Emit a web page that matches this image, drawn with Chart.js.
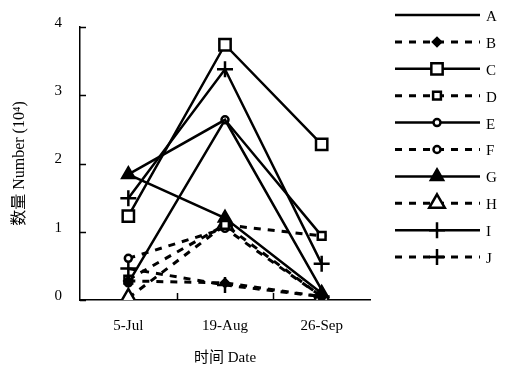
<!DOCTYPE html>
<html>
<head>
<meta charset="utf-8">
<script src="https://cdn.jsdelivr.net/npm/chart.js@4"></script>
<style>
  html, body { margin: 0; padding: 0; background: #fff; }
  #wrap { width: 507px; height: 371px; }
</style>
</head>
<body>
<div id="wrap"><canvas id="myChart"></canvas></div>
<script>
const dates = ['5-Jul', '19-Aug', '26-Sep'];
const yTicks = [0, 1, 2, 3, 4];

const seriesNames = ['A', 'B', 'C', 'D', 'E', 'F', 'G', 'H', 'I', 'J'];
const valuesA = [1.84, 2.64, 0.15];
const valuesB = [0.28, 0.25, 0.05];
const valuesC = [1.23, 3.74, 2.28];
const valuesD = [0.30, 1.10, 0.94];
const valuesE = [0.25, 2.64, 0.94];
const valuesF = [0.61, 1.05, 0.05];
const valuesG = [1.84, 1.20, 0.10];
const valuesH = [0.03, 1.10, 0.05];
const valuesI = [1.49, 3.38, 0.53];
const valuesJ = [0.46, 0.22, 0.05];

const serif = "'Liberation Serif', 'DejaVu Serif', 'Noto Sans CJK SC', serif";
const dashed = [7, 7];

const makeSet = (label, data, dash, style, radius, filled) => ({
    label: label,
    data: data,
    borderColor: '#000',
    borderWidth: dash ? 3 : 2.5,
    borderDash: dash || [],
    tension: 0,
    fill: false,
    pointStyle: style,
    pointRadius: style ? radius : 0,
    pointHoverRadius: style ? radius : 0,
    pointBorderWidth: 2.5,
    pointBorderColor: '#000',
    pointBackgroundColor: filled ? '#000' : '#fff'
});

const datasets = [
    makeSet('A', valuesA, null, false, 0, false),
    makeSet('B', valuesB, dashed, 'rectRot', 4, true),
    makeSet('C', valuesC, null, 'rect', 8, false),
    makeSet('D', valuesD, dashed, 'rect', 5.5, false),
    makeSet('E', valuesE, null, 'circle', 3.5, false),
    makeSet('F', valuesF, dashed, 'circle', 3.5, false),
    makeSet('G', valuesG, null, 'triangle', 7, true),
    makeSet('H', valuesH, dashed, 'triangle', 9, false),
    makeSet('I', valuesI, null, 'cross', 8, false),
    makeSet('J', valuesJ, dashed, 'cross', 8, false)
];

const bgcolorPlugin = {
    id: 'customCanvasBackgroundColor',
    beforeDraw: (chart) => {
        const { ctx } = chart;
        ctx.save();
        ctx.globalCompositeOperation = 'destination-over';
        ctx.fillStyle = '#fff';
        ctx.fillRect(0, 0, chart.width, chart.height);
        ctx.restore();
    }
};

// small ticks pointing into the plot, like the original figure
const innerTicks = {
    id: 'innerTicks',
    afterDraw: (chart) => {
        const { ctx, chartArea, scales } = chart;
        ctx.save();
        ctx.strokeStyle = '#000';
        ctx.lineWidth = 1.5;
        ctx.beginPath();
        yTicks.forEach((v) => {
            const y = Math.round(scales.y.getPixelForValue(v)) + 0.5;
            ctx.moveTo(chartArea.left, y);
            ctx.lineTo(chartArea.left + 6, y);
        });
        for (let i = 1; i < dates.length; i++) {
            const x = Math.round((scales.x.getPixelForValue(i - 1) + scales.x.getPixelForValue(i)) / 2) + 0.5;
            ctx.moveTo(x, chartArea.bottom);
            ctx.lineTo(x, chartArea.bottom - 7);
        }
        ctx.stroke();
        ctx.restore();
    }
};

// legend drawn as line samples with markers on the right
const lineLegend = {
    id: 'lineLegend',
    afterDraw: (chart) => {
        const { ctx } = chart;
        ctx.save();
        chart.data.datasets.forEach((ds, i) => {
            const y = 15 + i * 26.9;
            ctx.strokeStyle = '#000';
            ctx.lineWidth = ds.borderWidth;
            ctx.setLineDash(ds.borderDash);
            ctx.beginPath();
            ctx.moveTo(395, y);
            ctx.lineTo(480, y);
            ctx.stroke();
            ctx.setLineDash([]);
            if (ds.pointStyle) {
                ctx.fillStyle = ds.pointBackgroundColor;
                ctx.strokeStyle = ds.pointBorderColor;
                ctx.lineWidth = ds.pointBorderWidth;
                Chart.helpers.drawPoint(ctx, {
                    pointStyle: ds.pointStyle,
                    radius: ds.pointRadius,
                    rotation: 0,
                    borderWidth: ds.pointBorderWidth
                }, 437, y);
            }
            ctx.fillStyle = '#000';
            ctx.font = '15px ' + serif;
            ctx.textAlign = 'left';
            ctx.textBaseline = 'middle';
            ctx.fillText(seriesNames[i], 486, y + 2);
        });
        ctx.restore();
    }
};

const ctx = document.getElementById('myChart');

new Chart(ctx, {
    type: 'line',
    data: {
        labels: dates,
        datasets: datasets
    },
    options: {
        responsive: true,
        maintainAspectRatio: false,
        animation: false,
        layout: {
            padding: { top: 24, right: 137, bottom: 0, left: 0 }
        },
        plugins: {
            legend: { display: false },
            tooltip: { enabled: false }
        },
        scales: {
            x: {
                offset: true,
                afterFit: (scale) => { scale.height = 71; },
                grid: { display: false, drawTicks: false },
                border: { display: true, color: '#000', width: 1.5 },
                ticks: {
                    color: '#000',
                    padding: 17,
                    font: { family: serif, size: 15 }
                },
                title: {
                    display: true,
                    text: '时间 Date',
                    color: '#000',
                    padding: { top: 2 },
                    font: { family: serif, size: 15 }
                }
            },
            y: {
                min: 0,
                max: 4,
                afterFit: (scale) => { scale.width = 80; },
                afterBuildTicks: (scale) => {
                    scale.ticks = yTicks.map((v) => ({ value: v }));
                },
                grid: { display: false, drawTicks: false },
                border: { display: true, color: '#000', width: 1.5 },
                ticks: {
                    color: '#000',
                    padding: 18,
                    labelOffset: -4,
                    font: { family: serif, size: 15 }
                },
                title: {
                    display: true,
                    text: '数量 Number (10⁴)',
                    color: '#000',
                    padding: { top: 10, bottom: 10 },
                    font: { family: serif, size: 16 }
                }
            }
        }
    },
    plugins: [bgcolorPlugin, innerTicks, lineLegend]
});
</script>
</body>
</html>
